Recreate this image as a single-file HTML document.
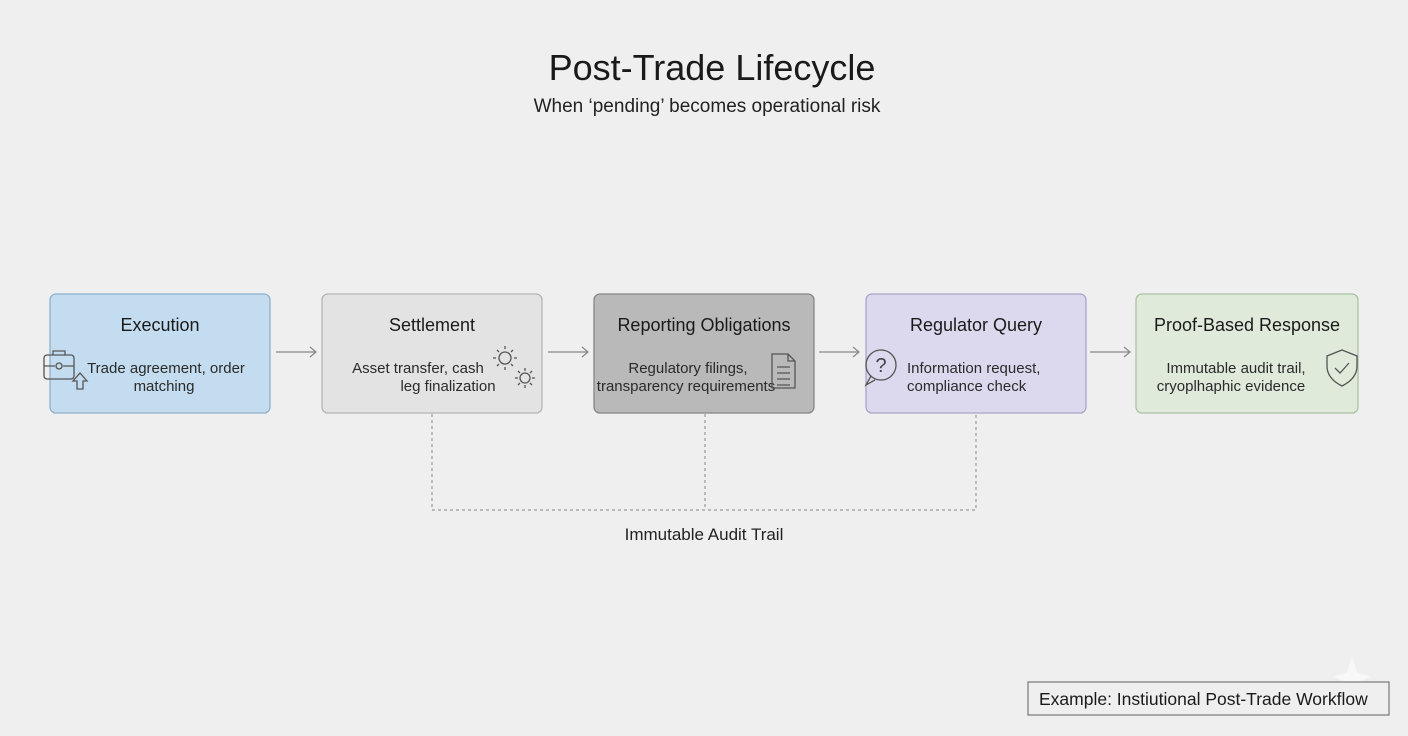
<!DOCTYPE html>
<html><head><meta charset="utf-8"><style>
html,body{margin:0;padding:0;background:#efefef;}
svg{display:block;font-family:"Liberation Sans",sans-serif;}
</style></head><body>
<svg width="1408" height="736" viewBox="0 0 1408 736" xmlns="http://www.w3.org/2000/svg">
<rect width="1408" height="736" fill="#efefef"/>
<text x="712" y="80" text-anchor="middle" font-size="36" fill="#1a1a1a">Post-Trade Lifecycle</text>
<text x="707" y="112" text-anchor="middle" font-size="19" fill="#222">When ‘pending’ becomes operational risk</text>

<g stroke-width="1.3">
<rect x="50" y="294" width="220" height="119" rx="6" fill="#c3dcef" stroke="#8fb1cc"/>
<rect x="322" y="294" width="220" height="119" rx="6" fill="#e3e3e3" stroke="#b5b5b5"/>
<rect x="594" y="294" width="220" height="119" rx="6" fill="#b9b9b9" stroke="#858585"/>
<rect x="866" y="294" width="220" height="119" rx="6" fill="#dcd9ee" stroke="#a9a4c8"/>
<rect x="1136" y="294" width="222" height="119" rx="6" fill="#dfeadb" stroke="#a9c2a3"/>
</g>

<g font-size="18" fill="#1a1a1a" text-anchor="middle">
<text x="160" y="331">Execution</text>
<text x="432" y="331">Settlement</text>
<text x="704" y="331">Reporting Obligations</text>
<text x="976" y="331">Regulator Query</text>
<text x="1247" y="331">Proof-Based Response</text>
</g>
<g font-size="15" fill="#2a2a2a" text-anchor="middle">
<text x="166" y="373">Trade agreement, order</text>
<text x="164" y="391">matching</text>
<text x="418" y="373">Asset transfer, cash</text>
<text x="448" y="391">leg finalization</text>
<text x="688" y="373">Regulatory filings,</text>
<text x="686" y="391">transparency requirements</text>
<text x="907" y="373" text-anchor="start">Information request,</text>
<text x="907" y="391" text-anchor="start">compliance check</text>
<text x="1236" y="373">Immutable audit trail,</text>
<text x="1231" y="391">cryoplhaphic evidence</text>
</g>

<!-- arrows -->
<g stroke="#888" stroke-width="1.2" fill="none">
<path d="M276 352H316M310 347L316 352L310 357"/>
<path d="M548 352H588M582 347L588 352L582 357"/>
<path d="M819 352H859M853 347L859 352L853 357"/>
<path d="M1090 352H1130M1124 347L1130 352L1124 357"/>
</g>

<!-- icons -->
<g stroke="#555" stroke-width="1.3" fill="none">
<rect x="44" y="355" width="30" height="24" rx="3"/>
<path d="M53 355v-4h12v4M44 366h11M63 366h11"/><circle cx="59" cy="366" r="3"/>
<path d="M77 389v-8h-4l7-8 7 8h-4v8z"/>
<circle cx="505" cy="358" r="6"/><path d="M505 346v3M505 367v3M493 358h3M514 358h3M497 350l2 2M511 364l2 2M497 366l2-2M511 352l2-2"/>
<circle cx="525" cy="378" r="5"/><path d="M525 368v3M525 385v3M515 378h3M532 378h3M518 371l2 2M530 383l2 2M518 385l2-2M530 373l2-2"/>
<path d="M772 354h16l7 7v27h-23zM788 354v7h7M777 367h13M777 373h13M777 379h13M777 385h13"/>
<circle cx="881" cy="365" r="15"/><path d="M871 376l-5 9 9-5"/>
<path d="M1342 350l15 6v10c0 10-7 16-15 20-8-4-15-10-15-20v-10z"/><path d="M1335 368l5 5 9-10"/>
</g>
<text x="881" y="372" text-anchor="middle" font-size="20" fill="#444">?</text>

<!-- audit trail dashed -->
<g stroke="#999" stroke-width="1.2" stroke-dasharray="3,3" fill="none">
<path d="M432 414V510H976V414M705 414V510"/>
</g>
<text x="704" y="540" text-anchor="middle" font-size="17" fill="#222">Immutable Audit Trail</text>

<path d="M1352 657l5 15 14 5-14 5-5 15-5-15-14-5 14-5z" fill="#f8f8f8"/>
<rect x="1028" y="682" width="361" height="33" fill="#efefef" stroke="#777" stroke-width="1.2"/>
<text x="1039" y="705" font-size="17.5" fill="#1a1a1a">Example: Instiutional Post-Trade Workflow</text>
</svg>
</body></html>
